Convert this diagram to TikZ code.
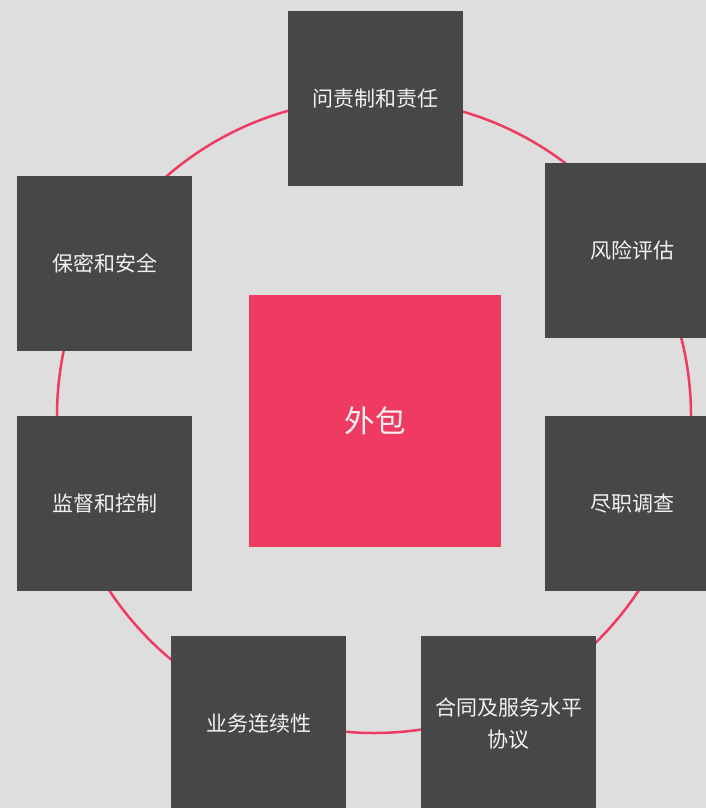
\documentclass[tikz,border=0pt]{standalone}
\usepackage{fontspec}
\setmainfont{Noto Sans CJK SC}
\usepackage{tikz}

\definecolor{bgcol}{HTML}{DEDEDE}
\definecolor{boxcol}{HTML}{474747}
\definecolor{pinkcol}{HTML}{EF3B62}
\definecolor{txtcol}{HTML}{F2F2F2}

\begin{document}
\begin{tikzpicture}[x=1pt,y=-1pt]
\tikzstyle{every node}=[shape=rectangle,inner sep=0pt,text=txtcol,align=center];
\tikzstyle{topic}=[fill=boxcol,minimum size=175pt,font=\fontsize{21}{32}\selectfont];
\tikzstyle{core}=[fill=pinkcol,minimum size=252pt,font=\fontsize{30.5}{36}\selectfont];
\useasboundingbox (0,0) rectangle (706,808);
\clip (0,0) rectangle (706,808);
\fill[bgcol] (0,0) rectangle (706,808);
\coordinate (mid) at (374,416);
\draw[pinkcol,line width=2.5pt] (mid) circle (317pt);
% topics round the ring
\node[topic] (accountability) at (375.5,98.5) {问责制和责任};
\node[topic] (risk) at (632.5,250.5) {风险评估};
\node[topic] (diligence) at (632.5,503.5) {尽职调查};
\node[topic] (contract) at (508.5,723.5) {合同及服务水平\\协议};
\node[topic] (continuity) at (258.5,723.5) {业务连续性};
\node[topic] (monitoring) at (104.5,503.5) {监督和控制};
\node[topic] (security) at (104.5,263.5) {保密和安全};
% centre
\node[core] (outsourcing) at (375,421) {外包};
\end{tikzpicture}
\end{document}
